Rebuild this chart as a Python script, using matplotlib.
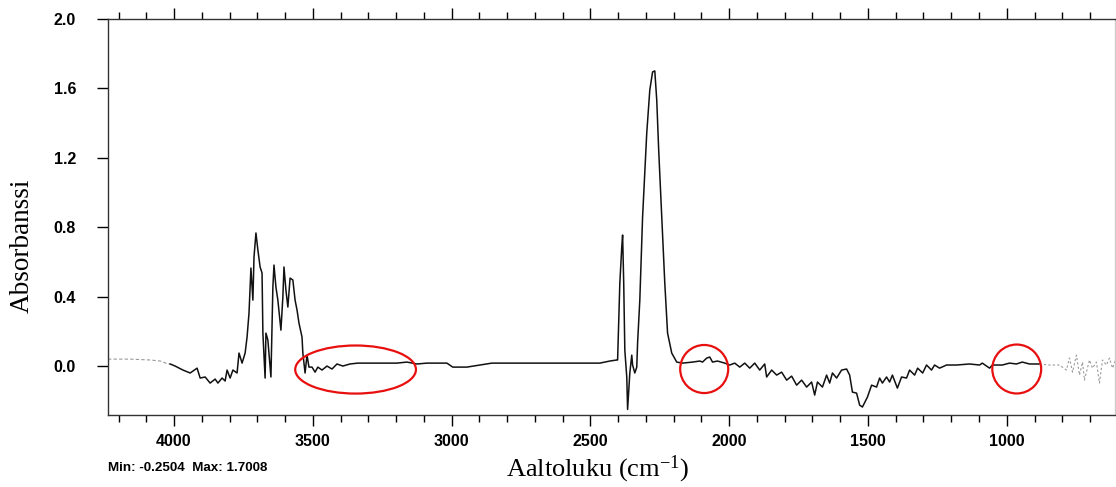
import numpy as np
import matplotlib
matplotlib.use("Agg")
import matplotlib.pyplot as plt
from matplotlib.patches import Ellipse
from matplotlib.ticker import MultipleLocator

plt.rcParams['mathtext.fontset'] = 'custom'
plt.rcParams['mathtext.rm'] = 'Liberation Serif'
plt.rcParams['mathtext.it'] = 'Liberation Serif'

# spectrum: wavenumber (cm-1) and absorbance
left_wn = [4238, 4158, 4086, 4050, 4022, 4014]
left_abs = [0.040, 0.040, 0.035, 0.029, 0.012, 0.012]

main_wn = [4014, 3996, 3968, 3942, 3917, 3906, 3888, 3870, 3852, 3842, 3827, 3816,
           3809, 3798, 3788, 3773, 3766, 3755, 3744, 3737, 3730, 3723, 3716, 3712,
           3705, 3698, 3690, 3683, 3680, 3672, 3669, 3662, 3651, 3644, 3640, 3633,
           3626, 3615, 3608, 3604, 3597, 3590, 3582, 3572, 3564, 3557, 3550, 3539,
           3536, 3528, 3521, 3514, 3503, 3492, 3482, 3467, 3449, 3431, 3413, 3392,
           3366, 3338, 3305, 3269, 3233, 3197, 3161, 3125, 3089, 3042, 3017, 2996,
           2945, 2898, 2855, 2466, 2430, 2405, 2402, 2394, 2387, 2384, 2380, 2376,
           2369, 2366, 2358, 2351, 2348, 2340, 2333, 2330, 2322, 2312, 2297, 2286,
           2276, 2268, 2261, 2254, 2243, 2232, 2222, 2207, 2189, 2168, 2132, 2106,
           2096, 2081, 2070, 2060, 2042, 2016, 1998, 1980, 1962, 1944, 1926, 1908,
           1890, 1872, 1865, 1847, 1829, 1811, 1793, 1775, 1757, 1739, 1721, 1703,
           1692, 1682, 1664, 1649, 1638, 1628, 1613, 1595, 1577, 1566, 1556, 1541,
           1530, 1520, 1502, 1487, 1469, 1458, 1448, 1433, 1422, 1412, 1394, 1379,
           1361, 1350, 1332, 1321, 1303, 1289, 1271, 1260, 1242, 1217, 1181, 1134,
           1098, 1088, 1062, 1052, 1016, 990, 965, 944, 918, 893, 882]
main_abs = [0.012, 0.000, -0.023, -0.040, -0.012, -0.069, -0.063, -0.098, -0.075, -0.098, -0.069, -0.086,
            -0.023, -0.069, -0.023, -0.040, 0.075, 0.017, 0.075, 0.167, 0.305, 0.565, 0.380, 0.628,
            0.767, 0.669, 0.571, 0.536, 0.190, -0.069, 0.190, 0.150, -0.063, 0.455, 0.582, 0.455,
            0.380, 0.207, 0.398, 0.571, 0.438, 0.340, 0.507, 0.496, 0.380, 0.323, 0.248, 0.167,
            0.075, -0.040, 0.063, -0.006, -0.006, -0.035, -0.006, -0.023, 0.000, -0.017, 0.012, 0.000,
            0.012, 0.017, 0.017, 0.017, 0.017, 0.017, 0.023, 0.012, 0.017, 0.017, 0.017, -0.006,
            -0.006, 0.006, 0.017, 0.017, 0.029, 0.035, 0.035, 0.478, 0.686, 0.755, 0.478, 0.092,
            -0.063, -0.250, -0.040, 0.063, 0.006, -0.040, -0.006, 0.133, 0.380, 0.859, 1.343, 1.591,
            1.695, 1.7008, 1.533, 1.245, 0.859, 0.478, 0.190, 0.075, 0.023, 0.017, 0.023, 0.029,
            0.023, 0.046, 0.052, 0.023, 0.029, 0.017, 0.006, 0.017, -0.006, 0.017, -0.012, 0.017,
            -0.023, 0.012, -0.063, -0.023, -0.052, -0.035, -0.081, -0.058, -0.110, -0.081, -0.121, -0.092,
            -0.167, -0.092, -0.121, -0.052, -0.098, -0.040, -0.069, -0.023, -0.017, -0.052, -0.150, -0.156,
            -0.225, -0.236, -0.179, -0.110, -0.121, -0.069, -0.098, -0.063, -0.092, -0.052, -0.127, -0.063,
            -0.069, -0.023, -0.052, -0.012, -0.040, 0.006, -0.023, 0.006, -0.012, 0.006, 0.006, 0.012,
            0.006, 0.017, -0.012, 0.006, 0.006, 0.017, 0.012, 0.023, 0.012, 0.012, 0.012]

right_wn = [882, 846, 810, 785, 774, 763, 749, 738, 727, 720, 702, 691, 677, 666, 655, 641, 630, 619, 608]
right_abs = [0.012, 0.006, 0.006, -0.023, 0.046, -0.035, 0.063, -0.052, 0.023, -0.081, 0.035, -0.012,
             0.023, -0.098, 0.035, 0.006, 0.046, -0.012, 0.035]

# red marks: centre wavenumber, centre absorbance, width (cm-1), height
mark_x = [3346, 2090, 964]
mark_y = [-0.02, -0.017, -0.017]
mark_w = [435, 173, 176]
mark_h = [0.277, 0.277, 0.282]

yticks = [0.0, 0.4, 0.8, 1.2, 1.6, 2.0]
xticks = [4000, 3500, 3000, 2500, 2000, 1500, 1000]

tick_font = 'Liberation Sans'

fig = plt.figure(figsize=(11.16, 4.87), dpi=100)
ax = fig.add_axes([108 / 1116, 72 / 487, 1007 / 1116, 396 / 487])

ax.plot(left_wn, left_abs, color='#999999', lw=0.8, ls=(0, (3, 2)))
ax.plot(main_wn, main_abs, color='#111111', lw=1.1)
ax.plot(right_wn, right_abs, color='#999999', lw=0.8, ls=(0, (2, 2)))

for i in range(len(mark_x)):
    e = Ellipse((mark_x[i], mark_y[i]), mark_w[i], mark_h[i], fill=False,
                edgecolor='#e8100f', lw=1.6, zorder=5)
    ax.add_patch(e)

ax.set_xlim(4238, 610)
ax.set_ylim(-0.282, 2.0)

ax.set_xticks(xticks)
ax.xaxis.set_minor_locator(MultipleLocator(100))
ax.set_yticks(yticks)
ax.set_yticklabels(['%.1f' % v for v in yticks])

ax.tick_params(axis='x', which='major', direction='out', length=8, width=1,
               top=True, bottom=True, pad=6)
ax.tick_params(axis='x', which='minor', direction='out', length=5, width=1,
               top=True, bottom=True)
ax.tick_params(axis='y', which='major', direction='out', length=8, width=1,
               left=True, right=False, pad=15)

for lab in ax.get_xticklabels() + ax.get_yticklabels():
    lab.set_family(tick_font)
    lab.set_fontweight('bold')
    lab.set_fontsize(11.5)

for s in ax.spines.values():
    s.set_color('#333333')
    s.set_linewidth(1.0)
ax.spines['right'].set_color('#cccccc')

fig.text(22 / 1116, 241 / 487, 'Absorbanssi', family='Liberation Serif', fontsize=19.5,
         rotation=90, ha='center', va='center')
fig.text(598 / 1116, 18 / 487, 'Aaltoluku (cm$^{-1}$)', family='Liberation Serif',
         fontsize=19, ha='center', va='center')

fig.text(108 / 1116, 19 / 487, 'Min: -0.2504  Max: 1.7008', family=tick_font,
         fontweight='bold', fontsize=9.6, ha='left', va='center')

fig.savefig('out.png', dpi=100)
